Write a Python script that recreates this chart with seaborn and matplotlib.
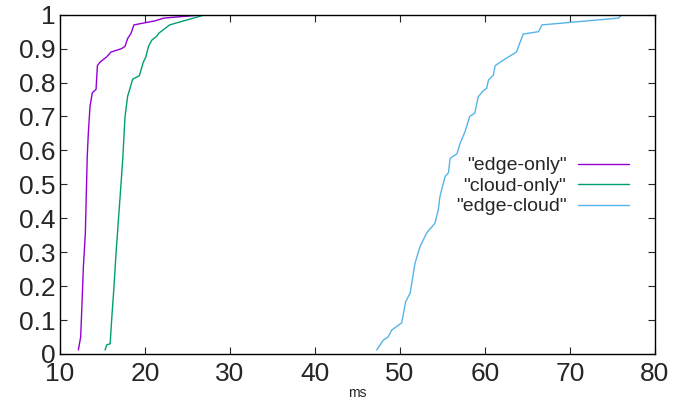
import pandas as pd
import matplotlib.pyplot as plt
import seaborn as sns

# CDF points (x in ms, y = cumulative fraction)
edge_only_ms = [12.16, 12.43, 12.55, 12.75, 12.98, 13.2, 13.33, 13.53, 13.8, 14.24, 14.4, 14.7,
                15.5, 16.0, 17.25, 17.65, 17.96, 18.35, 18.7, 21.2, 22.2, 26.5, 27.1]
edge_only_cdf = [0.012, 0.05, 0.125, 0.257, 0.355, 0.58, 0.65, 0.73, 0.77, 0.78, 0.85, 0.86,
                 0.876, 0.89, 0.90, 0.907, 0.93, 0.945, 0.97, 0.982, 0.99, 0.999, 1.0]

cloud_only_ms = [15.3, 15.5, 15.9, 16.1, 16.3, 16.6, 16.9, 17.06, 17.37, 17.65, 17.96, 18.2,
                 18.55, 19.33, 19.8, 20.1, 20.4, 20.8, 21.4, 21.6, 22.9, 27.1]
cloud_only_cdf = [0.012, 0.027, 0.03, 0.11, 0.18, 0.30, 0.405, 0.46, 0.57, 0.70, 0.76, 0.78,
                  0.81, 0.82, 0.86, 0.876, 0.906, 0.925, 0.937, 0.945, 0.97, 1.0]

edge_cloud_ms = [47.26, 48.04, 48.6, 49.0, 50.2, 50.67, 51.2, 51.76, 52.35, 53.14, 54.1, 54.5,
                 54.7, 55.3, 55.7, 55.9, 56.7, 57.06, 57.65, 58.2, 58.8, 59.2, 59.8, 60.2,
                 60.4, 60.98, 61.2, 62.15, 63.7, 64.1, 64.5, 66.3, 66.7, 75.7, 76.1]
edge_cloud_cdf = [0.012, 0.041, 0.05, 0.07, 0.092, 0.154, 0.18, 0.267, 0.316, 0.357, 0.385, 0.424,
                  0.464, 0.523, 0.534, 0.577, 0.59, 0.62, 0.655, 0.70, 0.71, 0.758, 0.776, 0.783,
                  0.807, 0.822, 0.85, 0.866, 0.89, 0.917, 0.943, 0.95, 0.97, 0.99, 1.0]

series_names = ['"edge-only"', '"cloud-only"', '"edge-cloud"']
colors = ['#9400d3', '#009e73', '#56b4e9']

frames = []
for name, xs, ys in zip(series_names,
                        [edge_only_ms, cloud_only_ms, edge_cloud_ms],
                        [edge_only_cdf, cloud_only_cdf, edge_cloud_cdf]):
    frames.append(pd.DataFrame({'ms': xs, 'cdf': ys, 'series': name}))
df = pd.concat(frames, ignore_index=True)

sns.set_style('ticks')
plt.rcParams['font.family'] = ['Liberation Sans', 'DejaVu Sans']

fig = plt.figure(figsize=(6.85, 4.03), dpi=100)
ax = fig.add_axes([0.0876, 0.1216, 0.8686, 0.8419])

sns.lineplot(data=df, x='ms', y='cdf', hue='series', palette=colors,
             sort=False, estimator=None, linewidth=1.0, ax=ax)

ax.set_xlim(10, 80)
ax.set_ylim(0, 1)
ax.set_xticks(range(10, 81, 10))
ax.set_yticks([i / 10 for i in range(11)])
ax.set_yticklabels(['0', '0.1', '0.2', '0.3', '0.4', '0.5', '0.6', '0.7', '0.8', '0.9', '1'])
ax.tick_params(direction='in', length=5, width=0.8, top=True, right=True,
               labelsize=19, pad=3)
ax.tick_params(axis='x', pad=6)
for s in ax.spines.values():
    s.set_linewidth(1.0)
    s.set_color('black')

ax.set_xlabel('ms', fontsize=10, labelpad=0)
ax.set_ylabel('')

ax.legend(loc='center right', bbox_to_anchor=(0.985, 0.495), frameon=False,
          markerfirst=False, fontsize=14, handlelength=2.6, labelspacing=0.15,
          handletextpad=0.6)

fig.savefig('out.png', dpi=100)
